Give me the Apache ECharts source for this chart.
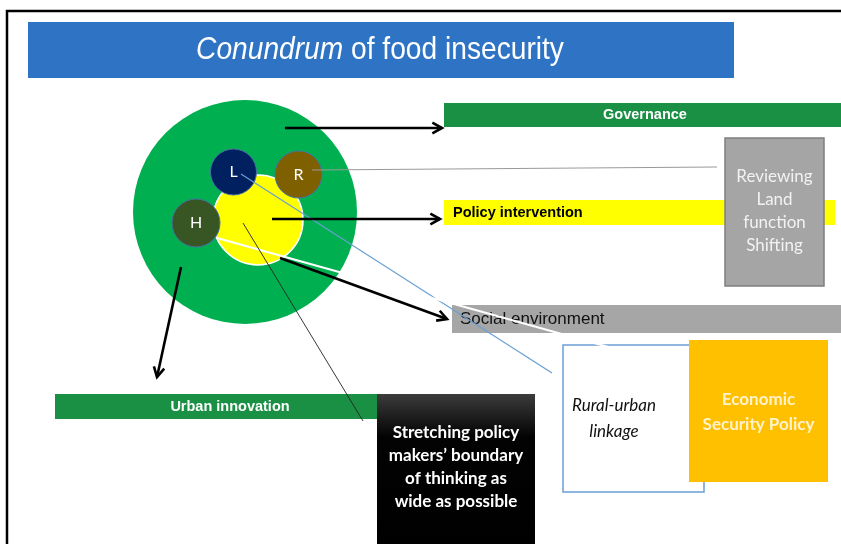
<!DOCTYPE html>
<html>
<head>
<meta charset="utf-8">
<script src="https://cdn.jsdelivr.net/npm/echarts@6/dist/echarts.min.js"></script>
<style>html,body{margin:0;padding:0;background:#fff}#c{width:841px;height:544px}</style>
</head>
<body>
<div id="c"></div>
<script>
// ---- content (text only) ----
const titleParts = ['Conundrum', ' of food insecurity'];
const nodeLabels = ['L', 'R', 'H'];
const barLabels = ['Governance', 'Policy intervention', 'Social environment', 'Urban innovation'];
const reviewLines = ['Reviewing', 'Land', 'function', 'Shifting'];
const linkageLines = ['Rural-urban', 'linkage'];
const economicLines = ['Economic', 'Security Policy'];
const stretchLines = ['Stretching policy', 'makers\u2019 boundary', 'of thinking as', 'wide as possible'];

// ---- layout ----
const L = {
  titleBar: {x: 28, y: 22, w: 706, h: 56},
  bigCircle: {cx: 245, cy: 212, r: 112},
  yellowCircle: {cx: 258, cy: 220, r: 45},
  nodes: [{cx: 233.5, cy: 172, r: 23, c: '#002060'}, {cx: 298.5, cy: 174.5, r: 23.5, c: '#7F6000'}, {cx: 196, cy: 223, r: 24, c: '#375623'}],
  bars: [
    {x: 444, y: 103, w: 397, h: 24, c: '#1A9044', tc: '#fff', font: 'bold 14.5px "Liberation Sans"', align: 'center', tx: 645},
    {x: 444, y: 200, w: 391, h: 25, c: '#FFFF00', tc: '#000', font: 'bold 14.5px "Liberation Sans"', align: 'left', tx: 453},
    {x: 452, y: 305, w: 389, h: 28, c: '#A6A6A6', tc: '#111', font: '17px "Liberation Sans"', align: 'left', tx: 460},
    {x: 55, y: 394, w: 322, h: 25, c: '#1A9044', tc: '#fff', font: 'bold 14.5px "Liberation Sans"', align: 'center', tx: 230}
  ],
  review: {x: 725, y: 138, w: 99, h: 148},
  linkage: {x: 563, y: 345, w: 141, h: 147},
  economic: {x: 689, y: 340, w: 139, h: 142},
  stretch: {x: 377, y: 394, w: 158, h: 152}
};

const graphics = [];
// frame
graphics.push({type: 'polyline', shape: {points: [[841, 11], [7, 11], [7, 544]]}, style: {stroke: '#000', lineWidth: 2.5, fill: null}, z: 1});
// title bar
graphics.push({type: 'rect', shape: {x: L.titleBar.x, y: L.titleBar.y, width: L.titleBar.w, height: L.titleBar.h}, style: {fill: '#2F74C4'}, z: 2});
const titleFont = '"Liberation Sans", sans-serif';
graphics.push({type: 'text', x: 380, y: 50, scaleX: 0.88, style: {
  text: '{i|' + titleParts[0] + '}{n|' + titleParts[1] + '}',
  align: 'center', verticalAlign: 'middle',
  rich: {i: {fontStyle: 'italic', fontSize: 32, fontFamily: titleFont, fill: '#fff', color: '#fff'},
         n: {fontSize: 32, fontFamily: titleFont, fill: '#fff', color: '#fff'}}
}, z: 3});
// circles
graphics.push({type: 'circle', shape: {cx: L.bigCircle.cx, cy: L.bigCircle.cy, r: L.bigCircle.r}, style: {fill: '#00B050'}, z: 3});
graphics.push({type: 'circle', shape: {cx: L.yellowCircle.cx, cy: L.yellowCircle.cy, r: L.yellowCircle.r}, style: {fill: '#FFFF00', stroke: '#fff', lineWidth: 1.5}, z: 4});
L.nodes.forEach((n, i) => {
  graphics.push({type: 'circle', shape: {cx: n.cx, cy: n.cy, r: n.r}, style: {fill: n.c, stroke: '#4A6FA0', lineWidth: 1}, z: 5});
  graphics.push({type: 'text', x: n.cx, y: n.cy, style: {text: nodeLabels[i], font: '16px Lato', fill: '#fff', align: 'center', verticalAlign: 'middle'}, z: 6});
});
// bars
L.bars.forEach((b, i) => {
  graphics.push({type: 'rect', shape: {x: b.x, y: b.y, width: b.w, height: b.h}, style: {fill: b.c}, z: 5});
  graphics.push({type: 'text', x: b.tx, y: b.y + b.h / 2, style: {text: barLabels[i], font: b.font, fill: b.tc, align: b.align, verticalAlign: 'middle'}, z: 6});
});
// reviewing box
graphics.push({type: 'rect', shape: {x: L.review.x, y: L.review.y, width: L.review.w, height: L.review.h}, style: {fill: '#A5A5A5', stroke: '#7F7F7F', lineWidth: 1.5}, z: 7});
graphics.push({type: 'text', x: L.review.x + L.review.w / 2, y: L.review.y + L.review.h / 2 - 1, style: {text: reviewLines.join('\n'), font: '17px Lato', lineHeight: 23, fill: '#F2F2F2', align: 'center', verticalAlign: 'middle'}, z: 8});
// linkage box
graphics.push({type: 'rect', shape: {x: L.linkage.x, y: L.linkage.y, width: L.linkage.w, height: L.linkage.h}, style: {fill: '#fff', stroke: '#6A9FD4', lineWidth: 1.5}, z: 7});
graphics.push({type: 'text', x: 614, y: 419, style: {text: linkageLines.join('\n'), font: 'italic 17px Lato', lineHeight: 26, fill: '#111', align: 'center', verticalAlign: 'middle'}, z: 8});
// economic box
graphics.push({type: 'rect', shape: {x: L.economic.x, y: L.economic.y, width: L.economic.w, height: L.economic.h}, style: {fill: '#FFC000'}, z: 9});
graphics.push({type: 'text', x: L.economic.x + L.economic.w / 2, y: 412, style: {text: economicLines.join('\n'), font: 'bold 17px Lato', lineHeight: 25, fill: '#FFF2CC', align: 'center', verticalAlign: 'middle'}, z: 10});
// stretch box
graphics.push({type: 'rect', shape: {x: L.stretch.x, y: L.stretch.y, width: L.stretch.w, height: L.stretch.h}, style: {fill: {type: 'linear', x: 0, y: 0, x2: 0, y2: 1, colorStops: [{offset: 0, color: '#3C3C3C'}, {offset: 0.28, color: '#030303'}, {offset: 1, color: '#000'}]}}, z: 9});
graphics.push({type: 'text', x: L.stretch.x + L.stretch.w / 2, y: 467, style: {text: stretchLines.join('\n'), font: 'bold 17px Lato', lineHeight: 23, fill: '#fff', align: 'center', verticalAlign: 'middle'}, z: 10});

// connector lines
function line(p1, p2, color, w, z) {
  graphics.push({type: 'line', shape: {x1: p1[0], y1: p1[1], x2: p2[0], y2: p2[1]}, style: {stroke: color, lineWidth: w}, z: z});
}
line([312, 170], [717, 167], '#9A9A9A', 1.2, 11);
line([241, 174], [552, 373], '#6A9FD4', 1.2, 11);
line([217, 238], [612, 348], '#FFFFFF', 2.2, 11);
line([243, 223], [363, 421], '#222', 0.9, 11);

function arrow(p1, p2) {
  line(p1, p2, '#000', 2.6, 12);
  const a = Math.atan2(p2[1] - p1[1], p2[0] - p1[0]);
  const len = 11, spread = 0.5;
  const h1 = [p2[0] - len * Math.cos(a - spread), p2[1] - len * Math.sin(a - spread)];
  const h2 = [p2[0] - len * Math.cos(a + spread), p2[1] - len * Math.sin(a + spread)];
  graphics.push({type: 'polyline', shape: {points: [h1, p2, h2]}, style: {stroke: '#000', lineWidth: 2.6, fill: null, lineJoin: 'miter'}, z: 12});
}
arrow([285, 128], [442, 128]);
arrow([272, 219], [440, 219]);
arrow([280, 258], [447, 319]);
arrow([181, 267], [157, 377]);

const chart = echarts.init(document.getElementById('c'), null, {renderer: 'canvas', width: 841, height: 544});
chart.setOption({backgroundColor: '#fff', animation: false, graphic: {elements: graphics}});
</script>
</body>
</html>
